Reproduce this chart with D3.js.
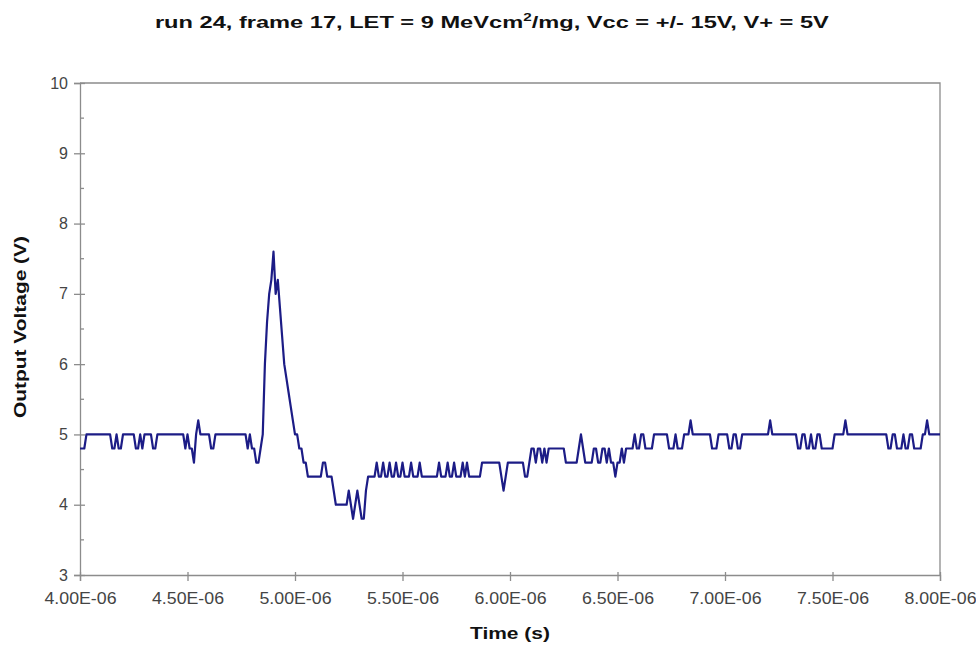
<!DOCTYPE html>
<html>
<head>
<meta charset="utf-8">
<script src="https://cdn.jsdelivr.net/npm/d3@7"></script>
<style>
  html, body { margin: 0; padding: 0; background: #fff; }
  svg { display: block; }
  text { font-family: "Liberation Sans", Arial, sans-serif; }
</style>
</head>
<body>
<svg id="chart" width="976" height="645"></svg>
<script>
// Oscilloscope capture: single-event transient on the amplifier output
const sampleStart = 4.00e-6;     // s, first sample
const samplePeriod = 1.0e-8;     // s, 10 ns per sample

// Output voltage (V), one value per sample, 401 samples (4.00 us .. 8.00 us)
const outputVoltage = [
  4.8,4.8,4.8,5.0,5.0,5.0,5.0,5.0,5.0,5.0, 5.0,5.0,5.0,5.0,5.0,4.8,4.8,5.0,4.8,4.8,
  5.0,5.0,5.0,5.0,5.0,5.0,4.8,4.8,5.0,4.8, 5.0,5.0,5.0,5.0,4.8,4.8,5.0,5.0,5.0,5.0,
  5.0,5.0,5.0,5.0,5.0,5.0,5.0,5.0,5.0,4.8, 5.0,4.8,4.8,4.6,5.0,5.2,5.0,5.0,5.0,5.0,
  5.0,4.8,4.8,5.0,5.0,5.0,5.0,5.0,5.0,5.0, 5.0,5.0,5.0,5.0,5.0,5.0,5.0,5.0,4.8,5.0,
  4.8,4.8,4.6,4.6,4.8,5.0,6.0,6.6,7.0,7.2, 7.6,7.0,7.2,6.8,6.4,6.0,5.8,5.6,5.4,5.2,
  5.0,5.0,4.8,4.8,4.6,4.6,4.4,4.4,4.4,4.4, 4.4,4.4,4.4,4.6,4.6,4.4,4.4,4.4,4.2,4.0,
  4.0,4.0,4.0,4.0,4.0,4.2,4.0,3.8,4.0,4.2, 4.0,3.8,3.8,4.2,4.4,4.4,4.4,4.4,4.6,4.4,
  4.4,4.6,4.4,4.4,4.6,4.4,4.4,4.6,4.4,4.4, 4.6,4.4,4.4,4.4,4.6,4.4,4.4,4.4,4.6,4.4,
  4.4,4.4,4.4,4.4,4.4,4.4,4.4,4.6,4.4,4.4, 4.4,4.6,4.4,4.4,4.6,4.4,4.4,4.4,4.6,4.4,
  4.6,4.4,4.4,4.4,4.4,4.4,4.4,4.6,4.6,4.6, 4.6,4.6,4.6,4.6,4.6,4.6,4.4,4.2,4.4,4.6,
  4.6,4.6,4.6,4.6,4.6,4.6,4.6,4.4,4.4,4.6, 4.8,4.8,4.6,4.8,4.8,4.6,4.8,4.6,4.8,4.8,
  4.8,4.8,4.8,4.8,4.8,4.8,4.6,4.6,4.6,4.6, 4.6,4.6,4.8,5.0,4.8,4.6,4.6,4.6,4.6,4.8,
  4.8,4.6,4.6,4.8,4.8,4.6,4.8,4.6,4.6,4.4, 4.6,4.6,4.8,4.6,4.8,4.8,4.8,4.8,5.0,4.8,
  4.8,5.0,5.0,4.8,4.8,4.8,4.8,5.0,5.0,5.0, 5.0,5.0,5.0,5.0,4.8,4.8,4.8,5.0,4.8,4.8,
  4.8,5.0,5.0,5.0,5.2,5.0,5.0,5.0,5.0,5.0, 5.0,5.0,5.0,5.0,4.8,4.8,4.8,5.0,5.0,5.0,
  5.0,5.0,4.8,4.8,5.0,5.0,4.8,4.8,5.0,5.0, 5.0,5.0,5.0,5.0,5.0,5.0,5.0,5.0,5.0,5.0,
  5.0,5.2,5.0,5.0,5.0,5.0,5.0,5.0,5.0,5.0, 5.0,5.0,5.0,5.0,4.8,4.8,5.0,5.0,4.8,4.8,
  5.0,4.8,4.8,5.0,5.0,4.8,4.8,4.8,4.8,4.8, 4.8,5.0,5.0,5.0,5.0,5.0,5.2,5.0,5.0,5.0,
  5.0,5.0,5.0,5.0,5.0,5.0,5.0,5.0,5.0,5.0, 5.0,5.0,5.0,5.0,5.0,5.0,4.8,4.8,5.0,5.0,
  4.8,4.8,4.8,5.0,4.8,4.8,5.0,5.0,4.8,4.8, 4.8,4.8,5.0,5.0,5.2,5.0,5.0,5.0,5.0,5.0,
  5.0
];

// Axis ticks
const xTickValues = [4.0e-6, 4.5e-6, 5.0e-6, 5.5e-6, 6.0e-6, 6.5e-6, 7.0e-6, 7.5e-6, 8.0e-6];
const xTickLabels = ["4.00E-06", "4.50E-06", "5.00E-06", "5.50E-06", "6.00E-06",
                     "6.50E-06", "7.00E-06", "7.50E-06", "8.00E-06"];
const yTickValues = [3, 4, 5, 6, 7, 8, 9, 10];
const yMinorTickValues = [3.5, 4.5, 5.5, 6.5, 7.5, 8.5, 9.5];

const svg = d3.select("#chart");
const margin = { left: 80, right: 36, top: 83, bottom: 70 };
const W = 976, H = 645;
const plotW = W - margin.left - margin.right;
const plotH = H - margin.top - margin.bottom;

const x = d3.scaleLinear().domain([4.0e-6, 8.0e-6]).range([0, plotW]);
const y = d3.scaleLinear().domain([3, 10]).range([plotH, 0]);

const axisColor = "#8c8c8c";
const labelColor = "#444";

// stretch a centred text element horizontally to a given width
function stretchTo(sel, width) {
  const node = sel.node();
  const bb = node.getBBox();
  const cx = bb.x + bb.width / 2;
  const s = width / bb.width;
  const prev = sel.attr("transform") || "";
  sel.attr("transform", `translate(${cx},0) scale(${s},1) translate(${-cx},0) ${prev}`);
}

const g = svg.append("g").attr("transform", `translate(${margin.left},${margin.top})`);

// plot frame (top and right edges)
g.append("path")
  .attr("d", `M0,0H${plotW}V${plotH}`)
  .attr("fill", "none").attr("stroke", axisColor).attr("stroke-width", 1.3);

// y axis: major ticks cross the axis line, minor ticks sit inside
const yAxis = g.append("g")
  .call(d3.axisLeft(y).tickValues(yTickValues).tickSize(6).tickPadding(6).tickFormat(d3.format("d")));
yAxis.selectAll(".tick line").attr("x2", -6).attr("x1", 5);
g.append("g").selectAll("line").data(yMinorTickValues).join("line")
  .attr("x1", 0).attr("x2", 4)
  .attr("y1", d => y(d)).attr("y2", d => y(d))
  .attr("stroke", axisColor).attr("stroke-width", 1.3);

// x axis
const xAxis = g.append("g").attr("transform", `translate(0,${plotH})`)
  .call(d3.axisBottom(x).tickValues(xTickValues).tickSize(6).tickPadding(12)
        .tickFormat((d, i) => xTickLabels[i]));
xAxis.selectAll(".tick line").attr("y1", -3);

[yAxis, xAxis].forEach(ax => {
  ax.select(".domain").attr("stroke", axisColor).attr("stroke-width", 1.3);
  ax.selectAll(".tick line").attr("stroke", axisColor).attr("stroke-width", 1.3);
  ax.selectAll(".tick text").attr("fill", labelColor).attr("font-size", 16);
});
xAxis.selectAll(".tick text")
  .attr("textLength", 72).attr("lengthAdjust", "spacingAndGlyphs");

// voltage trace
const line = d3.line()
  .x((d, i) => x(sampleStart + i * samplePeriod))
  .y(d => y(d));
g.append("path")
  .datum(outputVoltage)
  .attr("d", line)
  .attr("fill", "none")
  .attr("stroke", "#1c1c86")
  .attr("stroke-width", 2.2)
  .attr("stroke-linejoin", "round");

// title with superscript
const title = svg.append("text")
  .attr("x", 492).attr("y", 28)
  .attr("text-anchor", "middle")
  .attr("font-size", 17).attr("font-weight", "bold").attr("fill", "#111");
title.append("tspan").text("run 24, frame 17, LET = 9 MeVcm");
title.append("tspan").attr("font-size", 11).attr("dy", -7).text("2");
title.append("tspan").attr("dy", 7).text("/mg, Vcc = +/- 15V, V+ = 5V");
stretchTo(title, 675);

// axis titles
const xTitle = svg.append("text")
  .attr("x", 510).attr("y", 639)
  .attr("text-anchor", "middle")
  .attr("font-size", 17).attr("font-weight", "bold").attr("fill", "#111")
  .text("Time (s)");
stretchTo(xTitle, 80);

const yTitle = svg.append("text")
  .attr("x", 0).attr("y", 0)
  .attr("text-anchor", "middle")
  .attr("font-size", 17).attr("font-weight", "bold").attr("fill", "#111")
  .text("Output Voltage (V)");
stretchTo(yTitle, 182);
yTitle.attr("transform", `translate(26,${margin.top + plotH / 2 - 2}) rotate(-90) ${yTitle.attr("transform")}`);
</script>
</body>
</html>
